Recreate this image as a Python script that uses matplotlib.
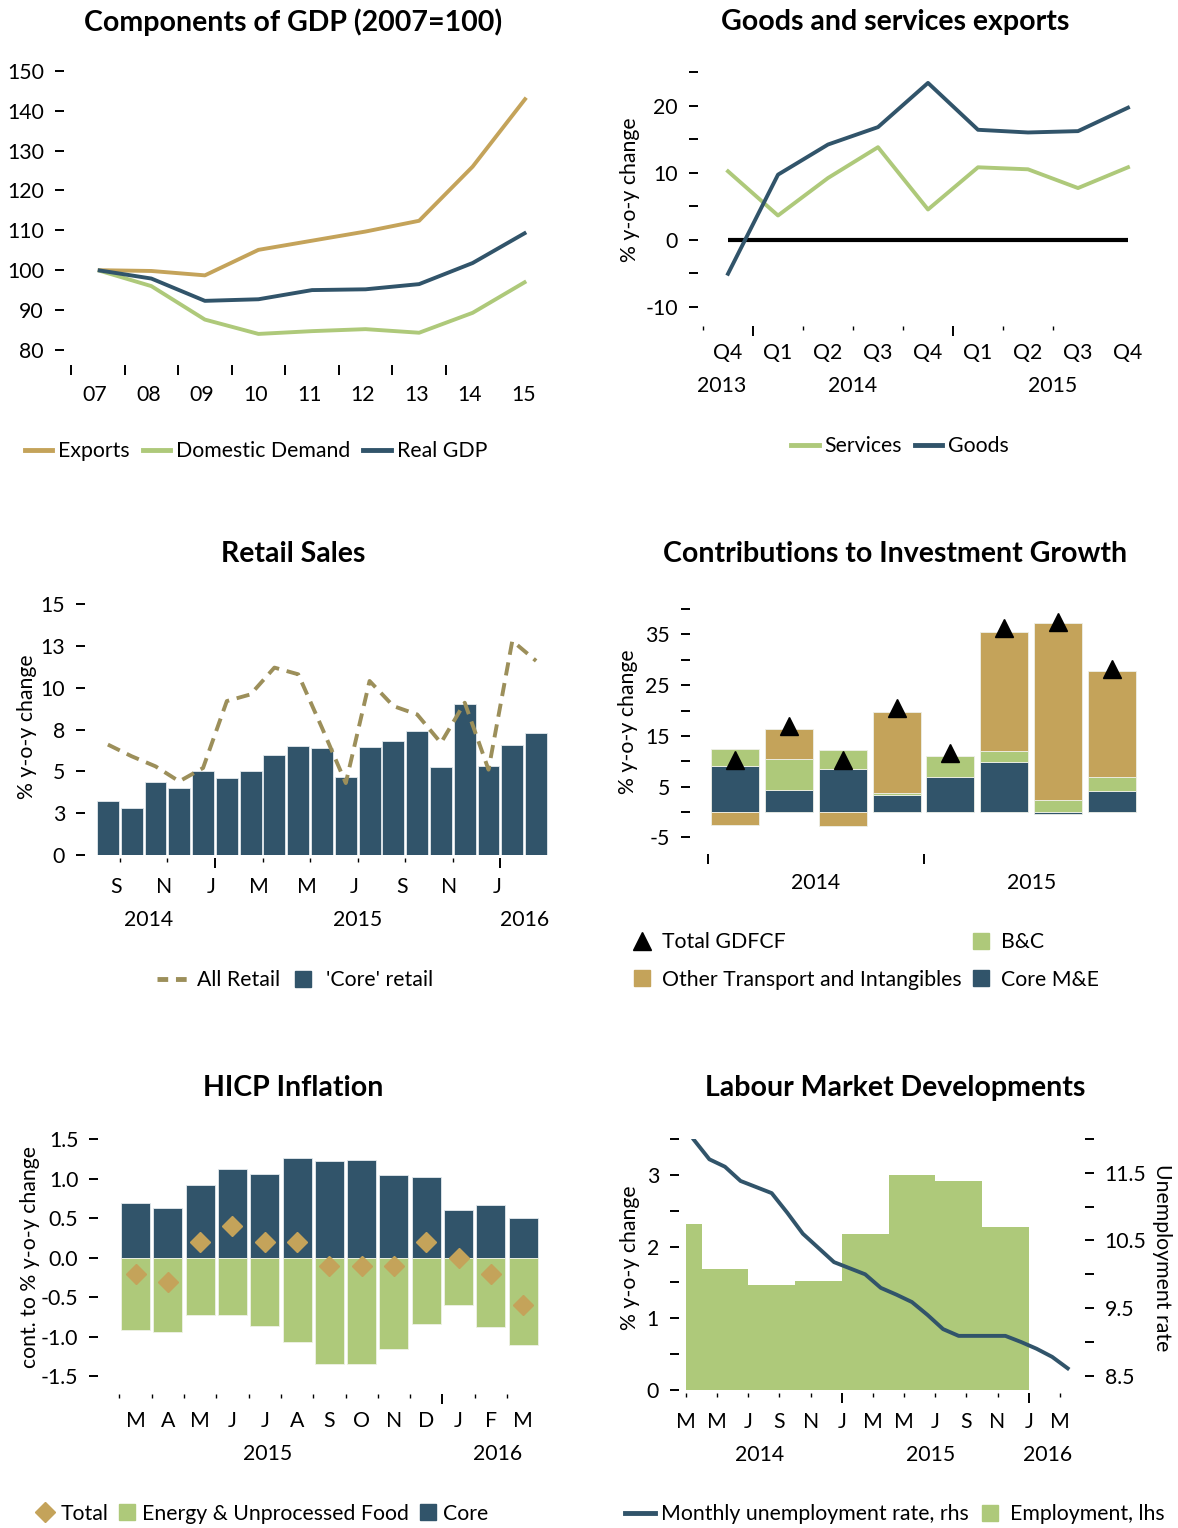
import matplotlib
matplotlib.use('Agg')
import matplotlib.pyplot as plt
import numpy as np
from matplotlib.lines import Line2D
from matplotlib.patches import Patch

FS = 15.3
plt.rcParams['font.family'] = ['Lato', 'DejaVu Sans']
plt.rcParams['font.size'] = FS

GOLD = '#C4A35A'
GREEN = '#AEC97A'
BLUE = '#31546A'
OLIVE = '#9C8F5A'

# ---------------- data ----------------
gdp_years = ['07', '08', '09', '10', '11', '12', '13', '14', '15']
gdp_exports = [100, 99.8, 98.7, 105.1, 107.4, 109.7, 112.4, 126.0, 143.3]
gdp_domestic = [100, 96.0, 87.6, 84.0, 84.7, 85.2, 84.3, 89.3, 97.2]
gdp_real = [100, 97.9, 92.3, 92.7, 95.0, 95.2, 96.5, 101.8, 109.5]

exp_quarters = ['Q4', 'Q1', 'Q2', 'Q3', 'Q4', 'Q1', 'Q2', 'Q3', 'Q4']
exp_year_of = ['2013', '2014', '2014', '2014', '2014', '2015', '2015', '2015', '2015']
exp_services = [10.2, 3.6, 9.2, 13.8, 4.5, 10.8, 10.5, 7.7, 10.8]
exp_goods = [-5.1, 9.7, 14.2, 16.8, 23.4, 16.4, 16.0, 16.2, 19.7]

retail_months = ['Aug 14', 'Sep 14', 'Oct 14', 'Nov 14', 'Dec 14',
                 'Jan 15', 'Feb 15', 'Mar 15', 'Apr 15', 'May 15', 'Jun 15',
                 'Jul 15', 'Aug 15', 'Sep 15', 'Oct 15', 'Nov 15', 'Dec 15',
                 'Jan 16', 'Feb 16']
retail_core = [3.25, 2.81, 4.38, 4.0, 5.04, 4.6, 5.02, 5.98, 6.53, 6.39, 4.68,
               6.47, 6.81, 7.41, 5.26, 9.04, 5.32, 6.59, 7.27]
retail_all = [6.6, 5.9, 5.3, 4.4, 5.2, 9.2, 9.6, 11.2, 10.8, 7.6, 4.3,
              10.4, 8.9, 8.4, 6.7, 9.1, 5.1, 12.8, 11.6]
retail_tick_months = ['Sep 14', 'Nov 14', 'Jan 15', 'Mar 15', 'May 15',
                      'Jul 15', 'Sep 15', 'Nov 15', 'Jan 16']
retail_tick_labels = ['S', 'N', 'J', 'M', 'M', 'J', 'S', 'N', 'J']
retail_yticks = [0, 2.5, 5, 7.5, 10, 12.5, 15]
retail_ylabels = ['0', '3', '5', '8', '10', '13', '15']

inv_quarters = ['Q1 14', 'Q2 14', 'Q3 14', 'Q4 14', 'Q1 15', 'Q2 15', 'Q3 15', 'Q4 15']
inv_core = [9.1, 4.4, 8.4, 3.4, 6.8, 9.8, -0.5, 4.2]
inv_bc = [3.3, 6.0, 3.9, 0.4, 4.2, 2.3, 2.3, 2.7]
inv_other = [-2.5, 6.0, -2.7, 15.9, 0.0, 23.4, 35.0, 20.8]
inv_total = [10.3, 17.0, 10.3, 20.4, 11.6, 36.2, 37.5, 28.2]

hicp_months = ['M', 'A', 'M', 'J', 'J', 'A', 'S', 'O', 'N', 'D', 'J', 'F', 'M']
hicp_year_of = ['2015'] * 10 + ['2016'] * 3
hicp_core = [0.70, 0.63, 0.92, 1.12, 1.06, 1.26, 1.23, 1.24, 1.05, 1.03, 0.60, 0.67, 0.50]
hicp_energy = [-0.91, -0.94, -0.73, -0.73, -0.86, -1.07, -1.34, -1.35, -1.16, -0.84,
               -0.60, -0.88, -1.11]
hicp_total = [-0.2, -0.3, 0.2, 0.4, 0.2, 0.2, -0.1, -0.1, -0.1, 0.2, 0.0, -0.2, -0.6]

emp_quarters = ['Q1 14', 'Q2 14', 'Q3 14', 'Q4 14', 'Q1 15', 'Q2 15', 'Q3 15', 'Q4 15']
emp_growth = [2.31, 1.69, 1.46, 1.52, 2.18, 3.0, 2.91, 2.27]
unemp_months = ['Mar 14', 'Apr 14', 'May 14', 'Jun 14', 'Jul 14', 'Aug 14', 'Sep 14',
                'Oct 14', 'Nov 14', 'Dec 14', 'Jan 15', 'Feb 15', 'Mar 15', 'Apr 15',
                'May 15', 'Jun 15', 'Jul 15', 'Aug 15', 'Sep 15', 'Oct 15', 'Nov 15',
                'Dec 15', 'Jan 16', 'Feb 16', 'Mar 16']
unemp_rate = [11.99, 11.70, 11.59, 11.38, 11.29, 11.20, 10.91, 10.60, 10.39, 10.18,
              10.09, 10.0, 9.80, 9.70, 9.59, 9.40, 9.19, 9.09, 9.09, 9.09, 9.09,
              9.0, 8.90, 8.78, 8.61]
lab_tick_labels = ['M', 'M', 'J', 'S', 'N', 'J', 'M', 'M', 'J', 'S', 'N', 'J', 'M']

# ---------------- layout helpers ----------------
W, H = 1178, 1528
fig = plt.figure(figsize=(W / 100, H / 100), dpi=100)
PT = 0.72  # px -> pt


def px_axes(l, t, r, b):
    return fig.add_axes([l / W, 1 - b / H, (r - l) / W, (b - t) / H])


def clean(ax, left_gap, bottom_gap=2):
    for s in ax.spines.values():
        s.set_visible(False)
    ax.spines['left'].set_position(('outward', left_gap * PT))
    ax.spines['right'].set_position(('outward', left_gap * PT))
    ax.spines['bottom'].set_position(('outward', bottom_gap * PT))
    ax.tick_params(axis='y', which='both', direction='out', length=9 * PT,
                   width=1.4, pad=11 * PT, labelsize=FS)
    ax.tick_params(axis='x', which='major', direction='out', length=10 * PT,
                   width=1.4, labelbottom=False)
    ax.tick_params(axis='x', which='minor', direction='out', length=3.5 * PT,
                   width=1.0, labelbottom=False)


def xlab(ax, x, text, dy, **kw):
    ax.annotate(text, (x, 0), xycoords=ax.get_xaxis_transform(),
                xytext=(0, -dy), textcoords='offset pixels',
                ha='center', va='center', fontsize=FS, **kw)


def title(x, y, text):
    fig.text(x / W, 1 - y / H, text, ha='center', va='center',
             fontsize=20.5, fontweight='bold')


def ylab(x, y, text, rot=90):
    fig.text(x / W, 1 - y / H, text, ha='center', va='center',
             rotation=rot, fontsize=FS)


def legend(handles, labels, x, y, ncol, **kw):
    opts = dict(loc='center', bbox_to_anchor=(x / W, 1 - y / H), ncol=ncol,
                frameon=False, fontsize=FS, handlelength=1.3,
                handletextpad=0.28, columnspacing=0.6, borderpad=0)
    opts.update(kw)
    fig.legend(handles, labels, **opts)


def sq(color):
    return Line2D([], [], ls='none', marker='s', ms=12, color=color)


def year_groups(year_of):
    groups = {}
    for i, yv in enumerate(year_of):
        groups.setdefault(yv, []).append(i)
    return {k: (v[0] + v[-1]) / 2 for k, v in groups.items()}


# ---------------- 1: Components of GDP ----------------
ax = px_axes(71, 63, 553, 365)
x = np.arange(len(gdp_years))
ax.plot(x, gdp_exports, color=GOLD, lw=2.8, solid_capstyle='butt')
ax.plot(x, gdp_domestic, color=GREEN, lw=2.8, solid_capstyle='butt')
ax.plot(x, gdp_real, color=BLUE, lw=2.8, solid_capstyle='butt')
ax.set_xlim(-0.5, len(gdp_years) - 0.5)
ax.set_ylim(76.2, 152)
ax.set_yticks(range(80, 151, 10))
clean(ax, 7, 0)
ax.set_xticks(x[:-1] - 0.5)
for i, lbl in enumerate(gdp_years):
    xlab(ax, i - 0.05, lbl, 30)
title(293, 22, 'Components of GDP (2007=100)')
legend([Line2D([], [], color=c, lw=3.5) for c in (GOLD, GREEN, BLUE)],
       ['Exports', 'Domestic Demand', 'Real GDP'], 256, 451, 3)

# ---------------- 2: Goods and services exports ----------------
ax = px_axes(703, 65.5, 1153, 324)
x = np.arange(len(exp_quarters))
ax.hlines(0, x[0], x[-1], color='black', lw=3)
ax.plot(x, exp_services, color=GREEN, lw=2.8)
ax.plot(x, exp_goods, color=BLUE, lw=2.8)
ax.set_xlim(-0.5, len(exp_quarters) - 0.5)
ax.set_ylim(-12.6, 26)
yt = list(range(-10, 26, 5))
ax.set_yticks(yt, [str(v) if v % 10 == 0 else '' for v in yt])
clean(ax, 5)
bounds = x[:-1] - 0.5
year_start = [i - 0.5 for i in x[1:] if exp_year_of[i] != exp_year_of[i - 1]]
ax.set_xticks(year_start)
ax.set_xticks([b for b in bounds if b not in year_start], minor=True)
for i, lbl in enumerate(exp_quarters):
    xlab(ax, i, lbl, 29)
for yv, cx in year_groups(exp_year_of).items():
    xlab(ax, cx - (0.12 if yv == '2013' else 0), yv, 62)
title(895, 22, 'Goods and services exports')
ylab(630, 190, '% y-o-y change')
legend([Line2D([], [], color=c, lw=3.5) for c in (GREEN, BLUE)],
       ['Services', 'Goods'], 900, 446, 2)

# ---------------- 3: Retail Sales ----------------
ax = px_axes(96, 599, 548, 855)
x = np.arange(len(retail_months))
ax.bar(x, retail_core, width=0.92, color=BLUE, edgecolor='#E4EAEE', lw=0.6)
ax.plot(x, retail_all, color=OLIVE, lw=2.8, dashes=(3.4, 2.0), dash_capstyle='butt')
ax.set_xlim(-0.5, len(retail_months) - 0.5)
ax.set_ylim(0, 15.3)
ax.set_yticks(retail_yticks, retail_ylabels)
clean(ax, 11, 3)
tpos = [retail_months.index(m) - 0.5 for m in retail_tick_months]
ax.set_xticks([p for p, m in zip(tpos, retail_tick_months) if m.startswith('Jan')])
ax.set_xticks([p for p, m in zip(tpos, retail_tick_months) if not m.startswith('Jan')],
              minor=True)
for p, lbl in zip(tpos, retail_tick_labels):
    xlab(ax, p - 0.15, lbl, 32)
for yv, cx in year_groups(['20' + m[-2:] for m in retail_months]).items():
    xlab(ax, cx - (0.3 if yv == '2014' else 0), yv, 65)
title(293, 554, 'Retail Sales')
ylab(27, 727, '% y-o-y change')
legend([Line2D([], [], color=OLIVE, lw=3.5, dashes=(2.2, 1.6)), sq(BLUE)],
       ['All Retail', "'Core' retail"], 295, 980, 2,
       handlelength=1.6, columnspacing=0.3)

# ---------------- 4: Contributions to Investment Growth ----------------
ax = px_axes(708, 604, 1139, 852)
x = np.arange(len(inv_quarters))
pos = np.zeros(len(x))
neg = np.zeros(len(x))
for vals, col in ((inv_core, BLUE), (inv_bc, GREEN), (inv_other, GOLD)):
    v = np.array(vals)
    bottom = np.where(v >= 0, pos, neg)
    ax.bar(x, v, bottom=bottom, width=0.89, color=col, edgecolor='#EEF0E8', lw=0.6)
    pos = pos + np.where(v >= 0, v, 0)
    neg = neg + np.where(v < 0, v, 0)
ax.plot(x, inv_total, ls='none', marker='^', ms=13, color='black')
ax.set_xlim(-0.5, len(inv_quarters) - 0.5)
ax.set_ylim(-7.9, 41)
yt = list(range(-5, 41, 5))
ax.set_yticks(yt, [str(v) if v % 10 == 5 or v == -5 else '' for v in yt])
clean(ax, 18)
inv_year_of = ['20' + q[-2:] for q in inv_quarters]
ax.set_xticks([i - 0.5 for i in x if i == 0 or inv_year_of[i] != inv_year_of[i - 1]])
for yv, cx in year_groups(inv_year_of).items():
    xlab(ax, cx, yv, 31)
title(895, 554, 'Contributions to Investment Growth')
ylab(628, 722, '% y-o-y change')
legend([Line2D([], [], ls='none', marker='^', ms=13, color='black'),
        sq(GOLD), sq(GREEN), sq(BLUE)],
       ['Total GDFCF', 'Other Transport and Intangibles', 'B&C', 'Core M&E'],
       866, 961, 2, handlelength=0.85, handleheight=0.85, labelspacing=0.8,
       columnspacing=0.5, handletextpad=0.5)

# ---------------- 5: HICP Inflation ----------------
ax = px_axes(119.4, 1135.5, 539.3, 1392)
x = np.arange(len(hicp_months))
ax.bar(x, hicp_core, width=0.9, color=BLUE, edgecolor='#E4EAEE', lw=0.6)
ax.bar(x, hicp_energy, width=0.9, color=GREEN, edgecolor='#EEF2E6', lw=0.6)
ax.plot(x, hicp_total, ls='none', marker='D', ms=10.5, color=GOLD)
ax.set_xlim(-0.5, len(hicp_months) - 0.5)
ax.set_ylim(-1.70, 1.55)
ax.set_yticks(np.arange(-1.5, 1.51, 0.5), [f'{v:.1f}' for v in np.arange(-1.5, 1.51, 0.5)])
clean(ax, 21)
ys = [i - 0.5 for i in x[1:] if hicp_year_of[i] != hicp_year_of[i - 1]]
ax.set_xticks(ys)
ax.set_xticks([i - 0.5 for i in x if i - 0.5 not in ys], minor=True)
for i, lbl in enumerate(hicp_months):
    xlab(ax, i, lbl, 29)
for yv, cx in year_groups(hicp_year_of).items():
    xlab(ax, cx + (-0.4 if yv == '2015' else 0.2), yv, 62)
title(293, 1088, 'HICP Inflation')
ylab(30, 1257, 'cont. to % y-o-y change')
legend([Line2D([], [], ls='none', marker='D', ms=10.5, color=GOLD),
        sq(GREEN), sq(BLUE)],
       ['Total', 'Energy & Unprocessed Food', 'Core'], 262, 1514, 3,
       handlelength=0.85, handleheight=0.85, columnspacing=0.45, handletextpad=0.3)

# ---------------- 6: Labour Market Developments ----------------
ax = px_axes(686, 1139, 1075.5, 1390)
ax2 = ax.twinx()
# months counted from start of March 2014; quarters start in Jan/Apr/Jul/Oct
q_start = [3 * i - 2 for i in range(len(emp_quarters))]
ax.bar(q_start, emp_growth, width=3, align='edge', color=GREEN, lw=0)
ax2.plot(np.arange(len(unemp_months)) + 0.5, unemp_rate, color=BLUE, lw=2.8)
ax.set_xlim(0, len(unemp_months))
ax.set_ylim(0, 3.5)
ax2.set_ylim(8.29, 12)
yt = np.arange(0, 3.51, 0.5)
ax.set_yticks(yt, [f'{v:.0f}' if v % 1 == 0 else '' for v in yt])
yt2 = np.arange(8.5, 12.01, 0.5)
ax2.set_yticks(yt2, [f'{v:.1f}' if v % 1 == 0.5 else '' for v in yt2])
clean(ax, 7, 3)
clean(ax2, 9, 3)
lab_pos = list(range(0, len(unemp_months), 2))
jan = [p for p in lab_pos if unemp_months[p].startswith('Jan')]
ax.set_xticks(jan)
ax.set_xticks([p for p in lab_pos if p not in jan], minor=True)
for p, lbl in zip(lab_pos, lab_tick_labels):
    xlab(ax, p, lbl, 32)
yr_idx = {}
for i, m in enumerate(unemp_months):
    yr_idx.setdefault('20' + m[-2:], []).append(i)
for yv, idx in yr_idx.items():
    xlab(ax, (idx[0] + idx[-1] + 1) / 2 - 0.3, yv, 65)
title(895, 1088, 'Labour Market Developments')
ylab(630, 1258, '% y-o-y change')
ylab(1162, 1258, 'Unemployment rate', rot=270)
legend([Line2D([], [], color=BLUE, lw=3.5), sq(GREEN)],
       ['Monthly unemployment rate, rhs', 'Employment, lhs'], 895, 1514, 2,
       handlelength=1.4, columnspacing=0.3)

fig.savefig('out.png', dpi=100)
